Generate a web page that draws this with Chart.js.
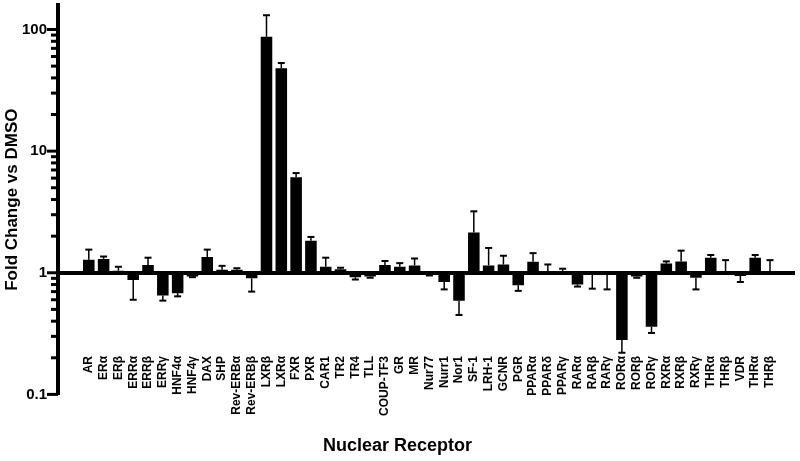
<!DOCTYPE html>
<html>
<head>
<meta charset="utf-8">
<script src="https://cdn.jsdelivr.net/npm/chart.js@4"></script>
<style>
  body { margin: 0; background: #fff; }
  #wrap { width: 800px; height: 461px; }
</style>
</head>
<body>
<div id="wrap"><canvas id="myChart"></canvas></div>
<script>
// receptors in plot order
const categories = ['AR', 'ERα', 'ERβ', 'ERRα', 'ERRβ', 'ERRγ', 'HNF4α', 'HNF4γ', 'DAX', 'SHP',
  'Rev-ERBα', 'Rev-ERBβ', 'LXRβ', 'LXRα', 'FXR', 'PXR', 'CAR1', 'TR2', 'TR4', 'TLL',
  'COUP-TF3', 'GR', 'MR', 'Nur77', 'Nurr1', 'Nor1', 'SF-1', 'LRH-1', 'GCNR', 'PGR',
  'PPARα', 'PPARδ', 'PPARγ', 'RARα', 'RARβ', 'RARγ', 'RORα', 'RORβ', 'RORγ', 'RXRα',
  'RXRβ', 'RXRγ', 'THRα', 'THRβ', 'VDR', 'THRα', 'THRβ'];

// fold change vs DMSO (bar end)
const foldChange = [1.28, 1.30, 1.04, 0.87, 1.16, 0.65, 0.68, 0.93, 1.35, 1.06,
  1.06, 0.90, 87, 48, 6.1, 1.83, 1.12, 1.07, 0.92, 0.93,
  1.16, 1.12, 1.15, 0.96, 0.84, 0.59, 2.14, 1.15, 1.17, 0.79,
  1.23, 1.01, 1.02, 0.80, 0.98, 0.96, 0.28, 0.93, 0.36, 1.19,
  1.24, 0.91, 1.33, 1.01, 0.94, 1.33, 1.01];

// tip of the error bar
const errorEnd = [1.55, 1.36, 1.12, 0.60, 1.33, 0.59, 0.64, 0.92, 1.55, 1.14,
  1.09, 0.70, 131, 53, 6.6, 1.97, 1.33, 1.10, 0.88, 0.91,
  1.25, 1.20, 1.31, 0.95, 0.73, 0.45, 3.2, 1.60, 1.38, 0.71,
  1.45, 1.17, 1.08, 0.77, 0.74, 0.73, 0.22, 0.91, 0.32, 1.24,
  1.52, 0.73, 1.40, 1.27, 0.84, 1.40, 1.27];

const yTickValues = [0.1, 0.2, 0.3, 0.4, 0.5, 0.6, 0.7, 0.8, 0.9,
  1, 2, 3, 4, 5, 6, 7, 8, 9,
  10, 20, 30, 40, 50, 60, 70, 80, 90, 100];
const yTickLabels = [0.1, 1, 10, 100];

Chart.defaults.font.family = '"Liberation Sans", Arial, sans-serif';
Chart.defaults.color = '#000';

const errorBars = {
  id: 'errorBars',
  afterDatasetsDraw(chart) {
    const { ctx, scales: { x, y } } = chart;
    ctx.save();
    ctx.strokeStyle = '#000';
    foldChange.forEach((v, i) => {
      const px = x.getPixelForValue(i);
      const y0 = y.getPixelForValue(v);
      const y1 = y.getPixelForValue(errorEnd[i]);
      ctx.lineWidth = 1.5;
      ctx.beginPath();
      ctx.moveTo(px, y0);
      ctx.lineTo(px, y1);
      ctx.stroke();
      ctx.lineWidth = 2;
      ctx.beginPath();
      ctx.moveTo(px - 3.5, y1);
      ctx.lineTo(px + 3.5, y1);
      ctx.stroke();
    });
    // tick marks left of the y axis (major a bit longer)
    ctx.lineWidth = 3;
    yTickValues.forEach(v => {
      const py = y.getPixelForValue(v);
      const major = yTickLabels.includes(v);
      ctx.beginPath();
      ctx.moveTo(y.right - (major ? 11 : 7), py);
      ctx.lineTo(y.right, py);
      ctx.stroke();
    });
    ctx.restore();
  }
};

const ctx = document.getElementById('myChart').getContext('2d');
const myChart = new Chart(ctx, {
  type: 'bar',
  data: {
    datasets: [{
      data: categories.map((c, i) => ({ x: i, y: [1, foldChange[i]] })),
      backgroundColor: '#000',
      borderWidth: 0,
      barPercentage: 0.78,
      categoryPercentage: 1
    }]
  },
  options: {
    responsive: true,
    maintainAspectRatio: false,
    animation: false,
    layout: { padding: { left: 0, right: 5, top: 5, bottom: 0 } },
    plugins: {
      legend: { display: false },
      tooltip: { enabled: false },
      title: {
        display: true,
        position: 'bottom',
        text: 'Nuclear Receptor',
        color: '#000',
        font: { size: 18, weight: 'bold' },
        padding: { top: 41, bottom: 4 }
      }
    },
    scales: {
      x: {
        type: 'linear',
        min: -1.55,
        max: 47.16,
        position: { y: 0.25 },
        grid: { display: false },
        border: { display: false },
        afterBuildTicks: scale => {
          scale.ticks = categories.map((c, i) => ({ value: i }));
        },
        afterFit: scale => {
          scale.paddingLeft = 0;
          scale.paddingRight = 0;
        },
        ticks: {
          autoSkip: false,
          minRotation: 90,
          maxRotation: 90,
          padding: 2,
          color: '#000',
          font: { size: 12, weight: 'bold' },
          callback: v => categories[v] ?? ''
        }
      },
      y: {
        type: 'logarithmic',
        min: 0.1,
        max: 159,
        afterBuildTicks: scale => {
          scale.ticks = yTickValues.map(v => ({ value: v, major: yTickLabels.includes(v) }));
        },
        afterFit: scale => {
          scale.width = 58;
          scale.paddingTop = 0;
          scale.paddingBottom = 0;
        },
        border: { display: true, width: 4, color: '#000' },
        grid: {
          drawTicks: false,
          color: c => (c.tick && c.tick.value === 1 ? '#000' : 'rgba(0,0,0,0)'),
          lineWidth: c => (c.tick && c.tick.value === 1 ? 4 : 1)
        },
        ticks: {
          autoSkip: false,
          padding: 11,
          color: '#000',
          font: { size: 15, weight: 'bold' },
          callback: v => (yTickLabels.some(l => Math.abs(l - v) < 1e-9) ? String(v) : '')
        },
        title: {
          display: true,
          text: 'Fold Change vs DMSO',
          color: '#000',
          font: { size: 17, weight: 'bold' },
          padding: { top: 2, bottom: 0 }
        }
      }
    }
  },
  plugins: [errorBars]
});
</script>
</body>
</html>
